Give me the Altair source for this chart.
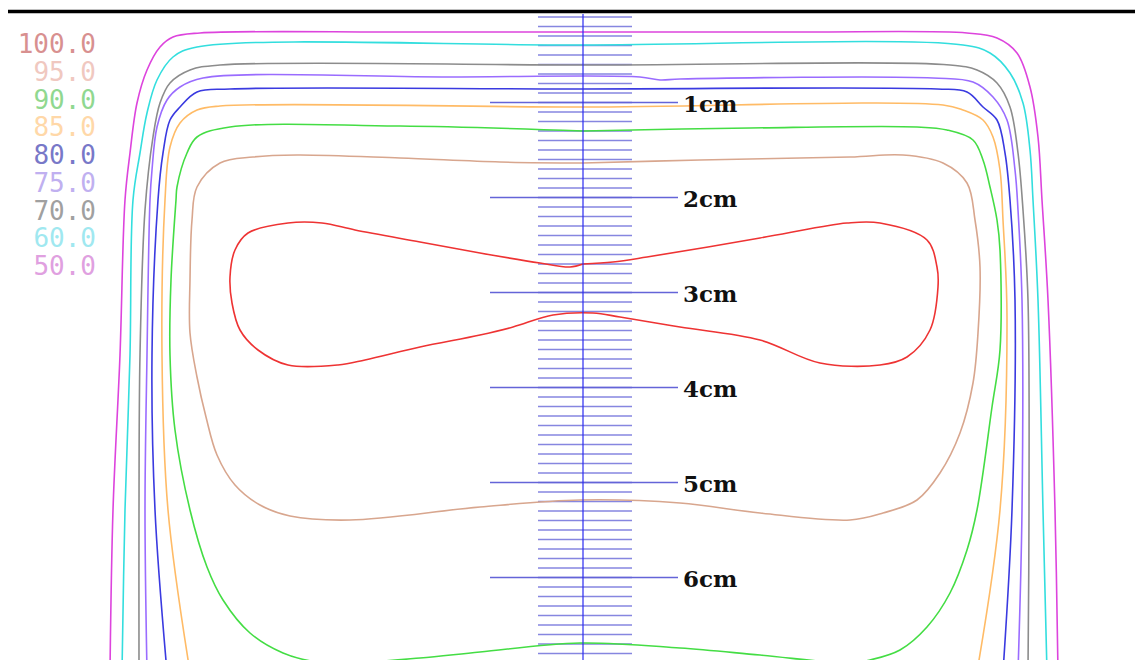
import altair as alt
import pandas as pd

# ---------------- isodose levels ----------------
levels = ["100.0", "95.0", "90.0", "85.0", "80.0", "75.0", "70.0", "60.0", "50.0"]
line_colors = ["#ee3333", "#d8a68e", "#44dd44", "#ffbb66", "#3a3ae0",
               "#9a6cff", "#8c8c8c", "#33dede", "#dd44dd"]
legend_colors = ["#d89090", "#f0c8c0", "#90d890", "#ffd8a8", "#7878c8",
                 "#c0b0f0", "#a0a0a0", "#a0e8f0", "#e0a0e0"]

# contour paths (image coordinates)
x100 = [583, 570, 540, 480, 420, 355, 322, 288, 248, 235, 230, 232, 240, 258, 288, 338, 365,
        420, 480, 513, 553, 593, 620, 680, 760, 820, 880, 907, 930, 938, 937, 927, 880, 847,
        820, 760, 647, 613, 583]
y100 = [264, 267, 263, 253, 242, 230, 223, 223, 233, 250, 277, 303, 330, 350, 365, 365, 360,
        347, 335, 327, 315, 313, 317, 327, 340, 363, 365, 357, 330, 287, 267, 240, 223, 223,
        227, 238, 257, 262, 264]

x95 = [583, 500, 400, 297, 253, 220, 197, 192, 190, 190, 197, 206, 217, 235, 260, 290,
       350, 480, 580, 680, 760, 850, 883, 917, 940, 960, 973, 978, 980, 975, 967, 943, 903,
       850, 700, 583]
y95 = [163, 162, 158, 155, 157, 163, 187, 220, 280, 333, 377, 417, 455, 485, 505, 516,
       520, 507, 500, 503, 513, 520, 513, 500, 473, 433, 383, 333, 267, 220, 183, 163, 155,
       157, 160, 163]

x90 = [583, 400, 230, 197, 187, 177, 176, 171, 170, 175, 190, 207, 223, 250, 283, 317, 350,
       420, 480, 580, 680, 760, 850, 870, 900, 927, 950, 967, 977, 992, 1000, 1000, 997, 990,
       983, 973, 947, 917, 750, 583]
y90 = [131, 126, 127, 137, 153, 187, 200, 280, 355, 430, 510, 567, 600, 633, 653, 662, 663,
       658, 652, 643, 648, 655, 663, 660, 650, 627, 593, 550, 510, 407, 350, 250, 220, 187,
       160, 140, 130, 127, 128, 131]

x85 = [190, 168, 162, 165, 170, 180, 197, 220, 583, 943, 963, 983, 993, 1000, 1003, 1007, 1000, 977]
y85 = [672, 510, 355, 200, 147, 123, 110, 106, 107, 105, 110, 120, 137, 170, 220, 317, 510, 672]

x80 = [167, 155, 152, 158, 163, 170, 180, 197, 230, 583, 937, 967, 983, 997, 1005, 1010, 1015, 1012, 1003]
y80 = [672, 510, 355, 200, 153, 120, 107, 92, 89, 89, 89, 92, 107, 120, 153, 200, 300, 510, 672]

x75 = [147, 145, 147, 150, 152, 157, 167, 180, 203, 450, 640, 660, 680, 933, 973, 993, 1007,
       1015, 1018, 1022, 1022, 1018]
y75 = [672, 510, 355, 200, 170, 127, 100, 87, 78, 77, 77, 80, 79, 78, 82, 97, 120, 170, 210,
       300, 510, 672]

x70 = [139, 139, 140, 145, 153, 160, 170, 190, 220, 583, 950, 977, 997, 1010, 1018, 1023, 1028, 1029, 1028]
y70 = [672, 510, 355, 210, 137, 103, 83, 70, 65, 65, 65, 70, 83, 107, 153, 210, 300, 510, 672]

x60 = [122, 125, 130, 133, 140, 147, 157, 173, 197, 583, 963, 990, 1010, 1023, 1030, 1033, 1038, 1043, 1047]
y60 = [672, 510, 355, 200, 153, 113, 80, 57, 47, 45, 45, 53, 73, 103, 150, 200, 300, 510, 672]

x50 = [110, 113, 120, 125, 130, 137, 147, 160, 173, 200, 400, 583, 800, 967, 997, 1017, 1030,
       1038, 1042, 1048, 1055, 1058]
y50 = [672, 510, 355, 200, 153, 103, 70, 47, 37, 33, 32, 32, 32, 33, 38, 53, 87, 137, 200,
       300, 510, 672]

paths = {"100.0": (x100, y100), "95.0": (x95, y95), "90.0": (x90, y90), "85.0": (x85, y85),
         "80.0": (x80, y80), "75.0": (x75, y75), "70.0": (x70, y70), "60.0": (x60, y60),
         "50.0": (x50, y50)}

# ruler (depth scale on the central axis)
mm_ticks = list(range(1, 70))
cm_ticks = [1, 2, 3, 4, 5, 6]
cm_labels = ["1cm", "2cm", "3cm", "4cm", "5cm", "6cm"]
ruler_origin = 7.5     # image row of depth 0
ruler_px_per_mm = 9.5
ruler_center = 583

rows = []
for lv in levels:
    xs_, ys_ = paths[lv]
    for i, (a, b) in enumerate(zip(xs_, ys_)):
        rows.append({"level": lv, "x": a, "y": b, "i": i})
df = pd.DataFrame(rows)

xsc = alt.Scale(domain=[8, 1135], nice=False, zero=False)
ysc = alt.Scale(domain=[8, 660], nice=False, zero=False, reverse=True)

def X(f):
    return alt.X(f, type="quantitative", scale=xsc, axis=None)

def Y(f):
    return alt.Y(f, type="quantitative", scale=ysc, axis=None)

# top black border
top_df = pd.DataFrame({"x": [0], "x2": [1143], "y": [11.5]})
top = alt.Chart(top_df).mark_rule(color="#000000", strokeWidth=3.5, clip=True).encode(
    x=X("x"), x2="x2:Q", y=Y("y"))

# mm ticks
mm_df = pd.DataFrame({"k": mm_ticks})
mm = alt.Chart(mm_df).transform_calculate(
    y=f"{ruler_origin} + {ruler_px_per_mm} * datum.k", x="538", x2="632"
).mark_rule(color="#8686e0", strokeWidth=1.3, clip=True).encode(
    x=X("x"), x2="x2:Q", y=Y("y"))

cm_df = pd.DataFrame({"cm": cm_ticks, "label": cm_labels})
cm = alt.Chart(cm_df).transform_calculate(
    y=f"{ruler_origin} + {ruler_px_per_mm} * 10 * datum.cm", x="490", x2="678"
).mark_rule(color="#6464d8", strokeWidth=1.3, clip=True).encode(
    x=X("x"), x2="x2:Q", y=Y("y"))

cm_text = alt.Chart(cm_df).transform_calculate(
    y=f"{ruler_origin} + {ruler_px_per_mm} * 10 * datum.cm", x="683"
).mark_text(align="left", baseline="middle", font="DejaVu Serif", fontWeight="bold",
            fontSize=23, color="#111111", dy=2).encode(
    x=X("x"), y=Y("y"), text="label:N")

vert_df = pd.DataFrame({"x": [ruler_center], "y": [14], "y2": [672]})
vert = alt.Chart(vert_df).mark_rule(color="#2a2af0", strokeWidth=1.2, clip=True).encode(
    x=X("x"), y=Y("y"), y2="y2:Q")

lines = alt.Chart(df).mark_line(strokeWidth=1.6, clip=True, interpolate="catmull-rom").encode(
    x=X("x"), y=Y("y"),
    color=alt.Color("level:N", scale=alt.Scale(domain=levels, range=line_colors), legend=None),
    detail="level:N",
    order="i:Q",
)

leg_df = pd.DataFrame({"level": levels, "idx": list(range(len(levels)))})
legend = alt.Chart(leg_df).transform_calculate(
    y="45 + 27.75 * datum.idx", x="96"
).mark_text(align="right", baseline="middle", font="DejaVu Sans Mono", fontSize=26).encode(
    x=X("x"), y=Y("y"), text="level:N",
    color=alt.Color("level:N", scale=alt.Scale(domain=levels, range=legend_colors), legend=None),
)

chart = alt.layer(top, mm, cm, lines, vert, cm_text, legend).resolve_scale(color="independent").properties(
    width=1127, height=652, background="#ffffff", padding=0,
    autosize=alt.AutoSizeParams(type="none"),
).configure_view(stroke=None)

chart.save("out.html", embed_options={"renderer": "svg", "actions": False})
